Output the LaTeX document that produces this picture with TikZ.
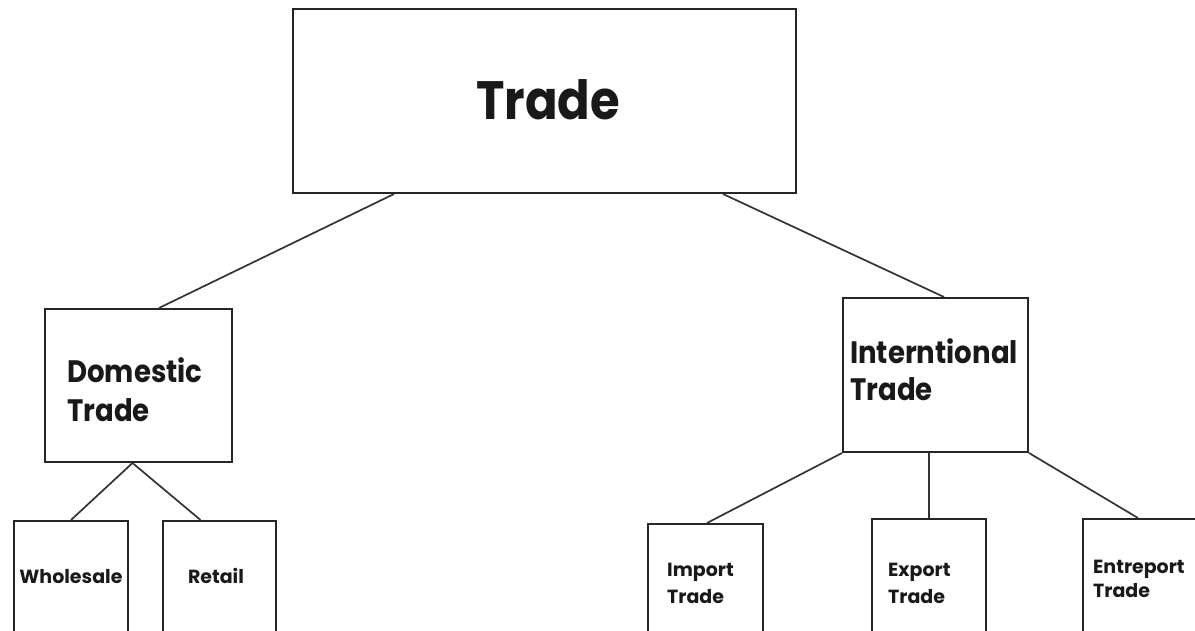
\documentclass[tikz,border=0pt]{standalone}
\usepackage{fontspec}
\setmainfont{Poppins}
\newfontfamily\narrowpop{Poppins}[FakeStretch=0.89]
\begin{document}
\begin{tikzpicture}[x=1pt,y=-1pt,
  box/.style={draw=black!85, line width=2pt, inner sep=0pt, fill=white},
  link/.style={draw=black!80, line width=1.7pt},
  lbl/.style={inner sep=0pt, text=black!90},
]
\useasboundingbox (0,0) rectangle (1195,631);
\begin{scope}
\clip (0,0) rectangle (1195,631);
% boxes
\node[box, minimum width=503, minimum height=184] (trade) at (544.5,101) {};
\node[box, minimum width=187, minimum height=153] (dom) at (138.5,385.5) {};
\node[box, minimum width=185, minimum height=154] (intl) at (935.5,375) {};
\node[box, minimum width=114, minimum height=130] (whole) at (71,586) {};
\node[box, minimum width=113, minimum height=130] (retail) at (219.5,586) {};
\node[box, minimum width=115, minimum height=130] (imp) at (705.5,589) {};
\node[box, minimum width=114, minimum height=130] (exp) at (929,584) {};
\node[box, minimum width=130, minimum height=130] (ent) at (1148,584) {};
% connectors
\draw[link] ([xshift=102pt]trade.south west) -- ([xshift=115pt]dom.north west);
\draw[link] ([xshift=-74pt]trade.south east) -- ([xshift=102pt]intl.north west);
\draw[link] ([xshift=-6pt]dom.south) -- (whole.north);
\draw[link] ([xshift=-6pt]dom.south) -- ([xshift=-19pt]retail.north);
\draw[link] (intl.south west) -- ([xshift=60pt]imp.north west);
\draw[link] (exp.north |- intl.south) -- (exp.north);
\draw[link] (intl.south east) -- ([xshift=56pt]ent.north west);
% labels
\node[lbl, anchor=base, font=\narrowpop\bfseries\fontsize{54}{60}\selectfont] (ttrade) at (548,120) {Trade};
\node[lbl, anchor=base west, font=\narrowpop\bfseries\fontsize{31}{39}\selectfont, align=left] (tdom) at (67,421) {Domestic\\Trade};
\node[lbl, anchor=base west, font=\narrowpop\bfseries\fontsize{31}{37}\selectfont, align=left] (tintl) at (850,400) {Interntional\\Trade};
\node[lbl, anchor=base, font=\bfseries\fontsize{19}{27}\selectfont] (twhole) at (71,583) {Wholesale};
\node[lbl, anchor=base, font=\bfseries\fontsize{19}{27}\selectfont] (tretail) at (216,583) {Retail};
\node[lbl, anchor=base west, font=\bfseries\fontsize{19}{27}\selectfont, align=left] (timp) at (667,603) {Import\\Trade};
\node[lbl, anchor=base west, font=\bfseries\fontsize{19}{27}\selectfont, align=left] (texp) at (888,603) {Export\\Trade};
\node[lbl, anchor=base west, font=\bfseries\fontsize{19}{24}\selectfont, align=left] (tent) at (1093,597) {Entreport\\Trade};
\end{scope}
\end{tikzpicture}
\end{document}
